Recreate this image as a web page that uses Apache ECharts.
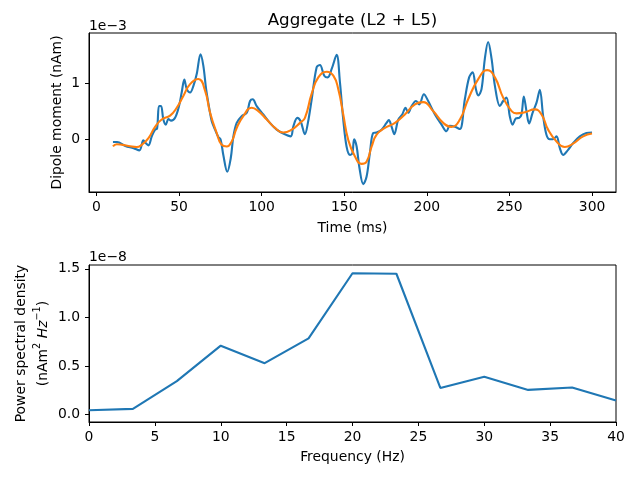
<!DOCTYPE html>
<html>
<head>
<meta charset="utf-8">
<script src="https://cdn.jsdelivr.net/npm/echarts@6/dist/echarts.min.js"></script>
<style>html,body{margin:0;padding:0;background:#fff}#c{width:640px;height:480px}</style>
</head>
<body>
<div id="c"></div>
<script>
// Dipole (units of 1e-3 nAm)
const dipoleTimes = [10,12.5,17.5,22.5,26,28.4,29.8,31.5,33.5,35.5,36.7,37.9,39.1,40.5,42,43.6,45.2,47.6,50,51.6,53.2,54.7,56.7,58.7,60.7,63,64.7,66.4,68.4,69.8,71.8,73.8,75.2,76.8,79.2,81.3,82.9,84.9,87.9,91,93,94.6,97,101,105,109.1,113.1,117.6,119.2,121.6,123.6,126.2,128,130.3,133.3,135.3,137.9,140,142.4,145.4,147.4,149.4,151.4,153.5,154.9,156,157.5,159.1,161.5,163.5,165.5,167.5,169.6,172.6,175.6,177,178.6,180.3,182.7,185.1,187.1,188.7,190.8,193.4,195.4,198.2,200.8,204.9,208.9,211.9,213.9,217,220,223,225.6,227.7,229.7,231.1,233.1,235.1,237.1,239.2,241.2,244.2,246.2,248.2,250.2,251.9,253.9,255.9,257.3,258.7,260.3,261.9,264,266.4,268.4,270.4,272.4,274.4,276.4,278.5,280.5,282.5,285.5,288.5,292.6,296.6,300];
const dipoleValues = [-0.04,-0.04,-0.11,-0.15,-0.19,-0.01,-0.06,-0.1,0.06,0.18,0.2,0.6,0.6,0.36,0.27,0.37,0.34,0.39,0.6,0.84,1.07,0.9,0.84,0.96,1.17,1.52,1.32,0.9,0.54,0.33,0.18,0.05,0.0,-0.27,-0.57,-0.33,0.06,0.3,0.42,0.48,0.69,0.72,0.6,0.45,0.3,0.18,0.11,0.06,0.24,0.39,0.33,0.1,0.3,0.72,1.29,1.33,1.14,1.11,1.26,1.51,1.02,0.36,-0.12,-0.27,-0.24,0.01,-0.12,-0.48,-0.79,-0.66,-0.24,0.12,0.13,0.18,0.3,0.35,0.24,0.1,0.36,0.45,0.57,0.48,0.6,0.69,0.63,0.81,0.69,0.45,0.27,0.15,0.25,0.23,0.19,0.72,1.11,1.2,0.9,0.79,0.9,1.44,1.74,1.44,0.96,0.6,0.69,0.75,0.42,0.27,0.38,0.39,0.45,0.77,0.51,0.29,0.48,0.66,0.89,0.42,0.09,0.01,0.01,0.06,-0.15,-0.27,-0.18,-0.06,0.06,0.12,0.13];
const smoothTimes = [10,12.3,19.4,24.4,27.4,31.5,35.5,39.5,44.6,48.6,52.6,56.7,61.7,65.7,68.8,72.8,75.8,78.9,81.9,84.9,88.9,94,98,103.1,108.1,113.1,118.2,123.2,126.2,130.3,134.3,139.4,143.4,146.4,149.4,152.4,156.5,160.5,163.5,166.6,169.6,174.6,180.7,186.7,192.8,197.8,203.8,209.9,214.9,220,225,231.1,236.5,241.2,246.2,251.3,254.3,259.3,265.3,269.4,273.4,278.5,283.5,288.5,294.6,300];
const smoothValues = [-0.12,-0.08,-0.11,-0.13,-0.09,0.03,0.23,0.36,0.43,0.57,0.78,0.99,1.08,0.88,0.48,0.12,-0.09,-0.12,-0.03,0.21,0.42,0.57,0.51,0.36,0.21,0.13,0.18,0.3,0.39,0.82,1.11,1.21,1.14,0.9,0.45,0.0,-0.3,-0.43,-0.39,-0.12,0.09,0.21,0.3,0.45,0.63,0.67,0.51,0.3,0.23,0.36,0.72,1.08,1.24,1.11,0.75,0.51,0.47,0.49,0.54,0.45,0.18,-0.03,-0.13,-0.07,0.06,0.11];
// PSD (units of 1e-8)
const psdFreqs = [0,3.333,6.667,10,13.333,16.667,20,23.333,26.667,30,33.333,36.667,40];
const psdValues = [0.046,0.06,0.345,0.71,0.53,0.785,1.455,1.45,0.275,0.39,0.255,0.28,0.145];
const timeTicks = [0,50,100,150,200,250,300];
const dipoleTicks = [0,1];
const psdTicks = [0,0.5,1.0,1.5];

const FONT = 'DejaVu Sans';
const FS = 13.9;
const zip = (a,b) => a.map((v,i)=>[v,b[i]]);
const axisCommon = {
  axisLine:{show:true,onZero:false,lineStyle:{color:'#000',width:1}},
  splitLine:{show:false},
};
const chart = echarts.init(document.getElementById('c'), null, {renderer:'canvas'});
chart.setOption({
  animation:false,
  backgroundColor:'#fff',
  grid:[
    {left:89,width:527,top:33,height:159,show:true,borderColor:'#000',borderWidth:1,backgroundColor:'transparent'},
    {left:89,width:527,top:265,height:157,show:true,borderColor:'#000',borderWidth:1,backgroundColor:'transparent'}
  ],
  xAxis:[
    Object.assign({type:'value',gridIndex:0,min:-4.5,max:314.5,
      axisTick:{show:true,length:4,lineStyle:{color:'#000'},customValues:timeTicks},
      axisLabel:{color:'#000',fontFamily:FONT,fontSize:FS,margin:8,customValues:timeTicks}},axisCommon),
    Object.assign({type:'value',gridIndex:1,min:0,max:40,interval:5,
      axisTick:{show:true,length:4,lineStyle:{color:'#000'}},
      axisLabel:{color:'#000',fontFamily:FONT,fontSize:FS,margin:8}},axisCommon)
  ],
  yAxis:[
    Object.assign({type:'value',gridIndex:0,min:-0.93,max:1.9,
      axisTick:{show:true,length:4,lineStyle:{color:'#000'},customValues:dipoleTicks},
      axisLabel:{color:'#000',fontFamily:FONT,fontSize:FS,margin:9,customValues:dipoleTicks}},axisCommon),
    Object.assign({type:'value',gridIndex:1,min:-0.075,max:1.54,
      axisTick:{show:true,length:4,lineStyle:{color:'#000'},customValues:psdTicks},
      axisLabel:{color:'#000',fontFamily:FONT,fontSize:FS,margin:9,customValues:psdTicks,formatter:v=>v.toFixed(1)}},axisCommon)
  ],
  series:[
    {type:'line',xAxisIndex:0,yAxisIndex:0,data:zip(dipoleTimes,dipoleValues),showSymbol:false,smooth:0.35,
      lineStyle:{color:'#1f77b4',width:2.1},z:2},
    {type:'line',xAxisIndex:0,yAxisIndex:0,data:zip(smoothTimes,smoothValues),showSymbol:false,smooth:0.5,
      lineStyle:{color:'#ff7f0e',width:2.1},z:3},
    {type:'line',xAxisIndex:1,yAxisIndex:1,data:zip(psdFreqs,psdValues),showSymbol:false,
      lineStyle:{color:'#1f77b4',width:2.1},clip:true}
  ],
  graphic:[
    {type:'text',x:352.5,y:21,style:{text:'Aggregate (L2 + L5)',font:'16.7px "DejaVu Sans"',fill:'#000',textAlign:'center',textVerticalAlign:'middle'}},
    {type:'text',x:89,y:26,style:{text:'1e\u22123',font:FS+'px "DejaVu Sans"',fill:'#000',textAlign:'left',textVerticalAlign:'middle'}},
    {type:'text',x:89,y:257,style:{text:'1e\u22128',font:FS+'px "DejaVu Sans"',fill:'#000',textAlign:'left',textVerticalAlign:'middle'}},
    {type:'text',x:352.5,y:228,style:{text:'Time (ms)',font:FS+'px "DejaVu Sans"',fill:'#000',textAlign:'center',textVerticalAlign:'middle'}},
    {type:'text',x:352.5,y:457,style:{text:'Frequency (Hz)',font:FS+'px "DejaVu Sans"',fill:'#000',textAlign:'center',textVerticalAlign:'middle'}},
    {type:'text',x:57,y:112.5,rotation:Math.PI/2,style:{text:'Dipole moment (nAm)',font:FS+'px "DejaVu Sans"',fill:'#000',textAlign:'center',textVerticalAlign:'middle'}},
    {type:'text',x:21,y:343.5,rotation:Math.PI/2,style:{text:'Power spectral density',font:FS+'px "DejaVu Sans"',fill:'#000',textAlign:'center',textVerticalAlign:'middle'}},
    {type:'text',x:41.5,y:343.5,rotation:Math.PI/2,style:{
      text:'{n|(nAm}{s|2}{n| }{i|Hz}{s|\u22121}{n|)}',
      textAlign:'center',textVerticalAlign:'middle',
      rich:{
        n:{fontFamily:FONT,fontSize:FS,fill:'#000',color:'#000',lineHeight:18,verticalAlign:'bottom'},
        i:{fontFamily:FONT,fontSize:FS,fontStyle:'italic',fill:'#000',color:'#000',lineHeight:18,verticalAlign:'bottom'},
        s:{fontFamily:FONT,fontSize:9.7,fill:'#000',color:'#000',lineHeight:18,verticalAlign:'top'}
      }}}
  ]
});
</script>
</body>
</html>
